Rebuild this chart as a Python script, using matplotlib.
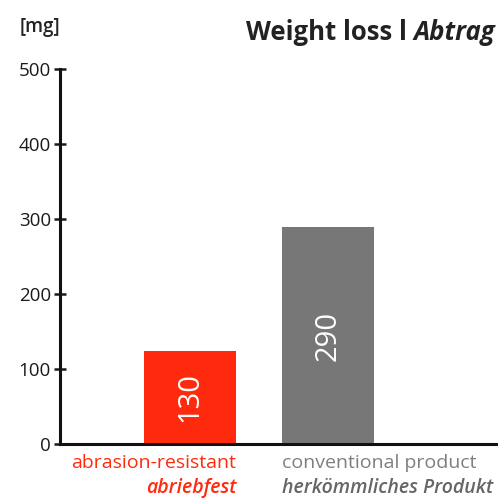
import numpy as np
import matplotlib.pyplot as plt

# Dados
categorias = ["abrasion-resistant", "conventional product"]
categorias_de = ["abriebfest", "herkömmliches Produkt"]
valores = [124, 289]
rotulos = ["130", "290"]
cores = ["#ff2a0e", "#777777"]
cores_texto = ["#ff2a0e", "#7f7f7f"]
cores_italico = ["#ff2a0e", "#666666"]
yticks = [0, 100, 200, 300, 400, 500]

plt.rcParams['font.family'] = ['Open Sans', 'DejaVu Sans']

fig = plt.figure(figsize=(4.98, 5.0), dpi=100)
ax = fig.add_axes([60/498, 56/500, 437/498, 375/500])

x = np.arange(len(valores))
ax.bar(x, valores, width=0.667, color=cores, zorder=2)

for xi, v, r in zip(x, valores, rotulos):
    ax.text(xi, v/2, r, rotation=90, ha='center', va='center',
            color='white', fontsize=21)

ax.set_xlim(-0.94, 2.22)
ax.set_ylim(0, 500)
ax.set_yticks(yticks)
ax.set_xticks([])
ax.tick_params(axis='y', direction='inout', length=9, width=1.8,
               labelsize=13.5, colors='#1a1a1a', pad=2)
for s in ['top', 'right']:
    ax.spines[s].set_visible(False)
for s in ['left', 'bottom']:
    ax.spines[s].set_linewidth(2.2)
    ax.spines[s].set_color('#111111')

# rótulos das categorias
trans = ax.get_xaxis_transform()
ax.text(0.333, -0.051, categorias[0], transform=trans,
        ha='right', va='center', color=cores_texto[0], fontsize=14)
ax.text(0.333, -0.117, categorias_de[0], transform=trans,
        ha='right', va='center', color=cores_italico[0], fontsize=14,
        style='italic', fontweight='semibold')
ax.text(1 - 0.333, -0.051, categorias[1], transform=trans,
        ha='left', va='center', color=cores_texto[1], fontsize=14)
ax.text(1 - 0.333, -0.117, categorias_de[1], transform=trans,
        ha='left', va='center', color=cores_italico[1], fontsize=14,
        style='italic', fontweight='semibold')

# título
t2 = fig.text(495/498, 1 - 32/500, "Abtrag", ha='right', va='center',
              fontsize=18.5, fontweight='bold', style='italic', color='#222222')
fig.canvas.draw()
bb = t2.get_window_extent()
fig.text(bb.x0 / fig.bbox.width, 1 - 32/500, "Weight loss l ", ha='right',
         va='center', fontsize=18.5, fontweight='bold', color='#222222')

fig.text(20/498, 1 - 27/500, "[mg]", ha='left', va='center',
         fontsize=13.5, fontweight='semibold', color='#222222')

fig.savefig("out.png", dpi=100)
